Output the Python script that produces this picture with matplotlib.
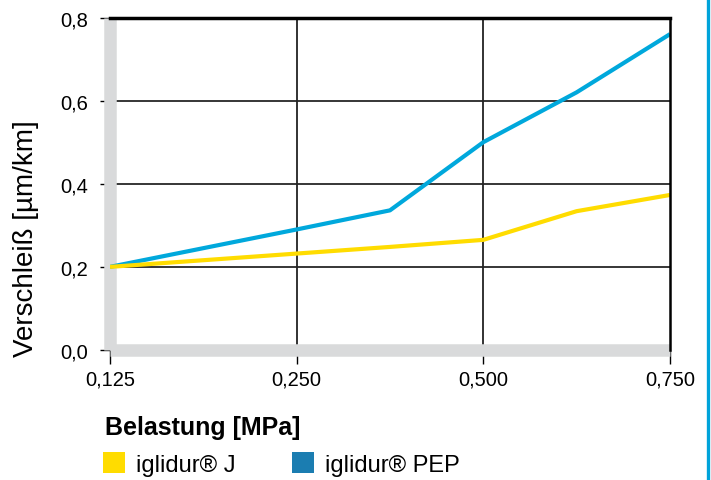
import matplotlib
matplotlib.use("Agg")
import matplotlib.pyplot as plt
import numpy as np
from matplotlib.patches import Patch
from matplotlib.lines import Line2D

plt.rcParams['font.family'] = ['Liberation Sans', 'DejaVu Sans']

# Belastung [MPa] and Verschleiss [um/km]
load = np.array([0.125, 0.25, 0.375, 0.5, 0.625, 0.75])
wear_j = np.array([0.200, 0.232, 0.248, 0.265, 0.334, 0.373])
wear_pep = np.array([0.200, 0.290, 0.336, 0.500, 0.620, 0.760])

tick_loads = [0.125, 0.25, 0.5, 0.75]
tick_labels = ["0,125", "0,250", "0,500", "0,750"]
y_ticks = [0.0, 0.2, 0.4, 0.6, 0.8]
y_labels = ["0,0", "0,2", "0,4", "0,6", "0,8"]

# x axis is spaced by tick index, not by value
tick_pos = np.arange(len(tick_loads))
xpos = np.interp(load, tick_loads, tick_pos)

fig = plt.figure(figsize=(7.11, 4.81), dpi=100)
ax = fig.add_axes([0.1547, 0.2703, 0.7876, 0.6912])

ax.plot(xpos, wear_pep, color="#00A8DC", linewidth=3, solid_capstyle="butt", zorder=3)
ax.plot(xpos, wear_j, color="#FFDC00", linewidth=3, solid_capstyle="butt", zorder=3)

ax.set_xlim(0, 3)
ax.set_ylim(0, 0.8)
ax.set_xticks(tick_pos)
ax.set_xticklabels(tick_labels, fontsize=14.5)
ax.set_yticks(y_ticks)
ax.set_yticklabels(y_labels, fontsize=14.5)

# grid lines
for yv in y_ticks[1:-1]:
    ax.axhline(yv, color="black", linewidth=1.1, zorder=1)
for xv in tick_pos[1:-1]:
    ax.axvline(xv, color="#222222", linewidth=1.3, zorder=1)

for s in ["left", "bottom"]:
    ax.spines[s].set_color("#D9DADB")
    ax.spines[s].set_linewidth(9)
    ax.spines[s].set_capstyle("butt")
ax.spines["top"].set_color("black")
ax.spines["top"].set_linewidth(2.5)
ax.spines["right"].set_color("black")
ax.spines["right"].set_linewidth(1.8)
ax.spines["top"].set_zorder(4)
ax.spines["right"].set_zorder(4)

ax.tick_params(axis="y", length=7, width=1, color="black", pad=9)
ax.tick_params(axis="x", length=10, width=1, color="black", pad=4)

# y label sits lower than the axes centre
fig.text(26 / 711, 1 - 239 / 481, "Verschleiß [µm/km]", fontsize=20,
         rotation=90, ha="center", va="center")

fig.text(105 / 711, 1 - 428 / 481, "Belastung [MPa]", fontsize=18,
         fontweight="bold", ha="left", va="center")

handles = [Patch(facecolor="#FFDC00"), Patch(facecolor="#1B7DB1")]
fig.legend(handles, ["iglidur® J", "iglidur® PEP"], loc="center left",
           bbox_to_anchor=(86 / 711, 1 - 465 / 481), ncol=2, frameon=False,
           fontsize=17, handlelength=0.95, handleheight=0.95,
           handletextpad=0.45, columnspacing=2.4, borderpad=0.2)

# blue border line at the right edge
fig.add_artist(Line2D([708 / 711, 708 / 711], [0, 1], color="#00A3DA",
                      linewidth=2.4, transform=fig.transFigure))

fig.savefig("out.png", dpi=100)
